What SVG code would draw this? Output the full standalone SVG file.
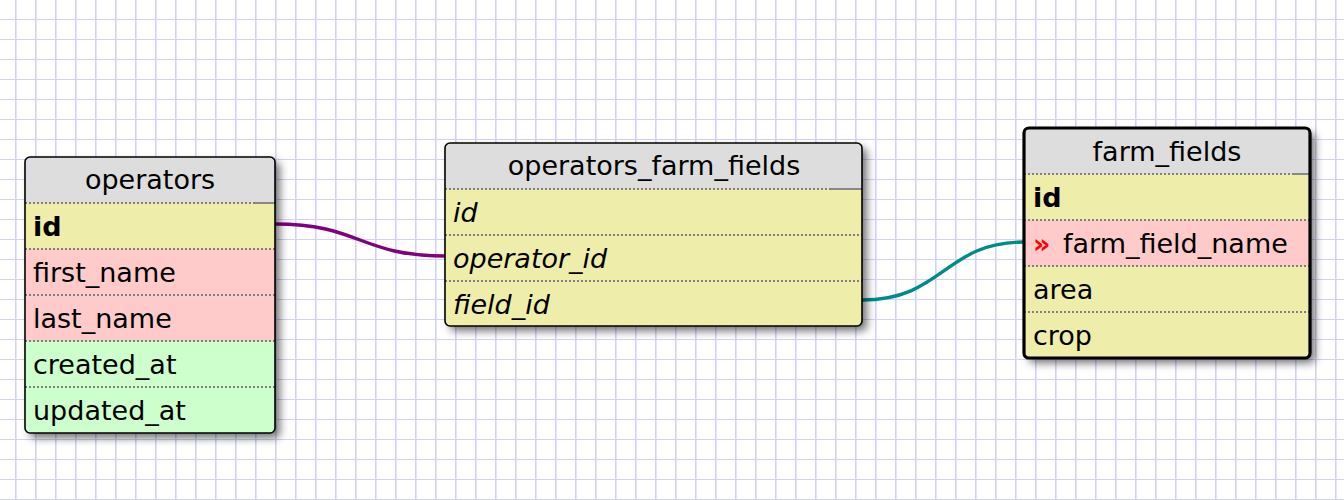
<svg xmlns="http://www.w3.org/2000/svg" width="1344" height="500" viewBox="0 0 1344 500">
<style>
.t{font-family:"DejaVu Sans",Verdana,sans-serif;font-size:27px;fill:#000}
.h{text-anchor:middle}
.b{font-weight:bold}
.i{font-style:italic}
.sep{stroke:#7f7f7f;stroke-width:2;stroke-dasharray:2 2;fill:none}
.sol{stroke:#888;stroke-width:2;fill:none}
.hd{fill:#dddddd}
.y{fill:#eeeeaa}
.p{fill:#ffcaca}
.g{fill:#ccffcc}
.bd{fill:none;stroke:#000;stroke-width:1.6}
.bd3{fill:none;stroke:#000;stroke-width:3.2}
.sh{fill:#fff;filter:url(#shadow)}
.c{fill:none;stroke-width:3.4}
</style>
<defs>
<pattern id="grid" x="0" y="0" width="20" height="20" patternUnits="userSpaceOnUse">
<rect x="15" y="0" width="1" height="20" fill="#d2d2f4"/>
<rect x="16" y="0" width="1" height="20" fill="#e4e4fa"/>
<rect x="0" y="19" width="20" height="1" fill="#d2d2f4"/>
<rect x="0" y="20" width="20" height="1" fill="#e4e4fa"/>
</pattern>
<filter id="shadow" x="-10%" y="-10%" width="130%" height="130%">
<feDropShadow dx="5" dy="5" stdDeviation="4" flood-color="#000" flood-opacity="0.55"/>
</filter>
<clipPath id="c1"><rect x="25" y="157" width="250" height="276" rx="5"/></clipPath>
<clipPath id="c2"><rect x="445" y="143" width="417" height="183" rx="5"/></clipPath>
<clipPath id="c3"><rect x="1024" y="128" width="286" height="230" rx="5"/></clipPath>
</defs>
<rect width="1344" height="500" fill="#fff"/>
<rect width="1344" height="500" fill="url(#grid)"/>

<g id="connectors">
<path class="c" stroke="#800080" d="M275,224 C360,224 360,256 445,256"/>
<path class="c" stroke="#008b8b" d="M862,300 C944,300 944,242 1024,242"/>
</g>

<g id="operators">
<rect class="sh" x="25" y="157" width="250" height="276" rx="5"/>
<g clip-path="url(#c1)">
<rect class="hd" x="25" y="157" width="250" height="46"/>
<rect class="y" x="25" y="203" width="250" height="46"/>
<rect class="p" x="25" y="249" width="250" height="92"/>
<rect class="g" x="25" y="341" width="250" height="92"/>
</g>
<path class="sep" d="M25,203 H255 M25,249 H275 M25,295 H275 M25,341 H275 M25,387 H275"/>
<path class="sol" d="M255,203 H275"/>
<rect class="bd" x="25" y="157" width="250" height="276" rx="5"/>
<text class="t h" x="150" y="189">operators</text>
<text class="t b" x="33" y="236">id</text>
<text class="t" x="33" y="282">first_name</text>
<text class="t" x="33" y="328">last_name</text>
<text class="t" x="33" y="374">created_at</text>
<text class="t" x="33" y="420">updated_at</text>
</g>

<g id="operators_farm_fields">
<rect class="sh" x="445" y="143" width="417" height="183" rx="5"/>
<g clip-path="url(#c2)">
<rect class="hd" x="445" y="143" width="417" height="46"/>
<rect class="y" x="445" y="189" width="417" height="137"/>
</g>
<path class="sep" d="M445,189 H830 M445,235 H862 M445,281 H862"/>
<path class="sol" d="M830,189 H862"/>
<rect class="bd" x="445" y="143" width="417" height="183" rx="5"/>
<text class="t h" x="654" y="175">operators_farm_fields</text>
<text class="t i" x="453" y="222">id</text>
<text class="t i" x="453" y="268">operator_id</text>
<text class="t i" x="453" y="314">field_id</text>
</g>

<g id="farm_fields">
<rect class="sh" x="1024" y="128" width="286" height="230" rx="5"/>
<g clip-path="url(#c3)">
<rect class="hd" x="1024" y="128" width="286" height="46"/>
<rect class="y" x="1024" y="174" width="286" height="46"/>
<rect class="p" x="1024" y="220" width="286" height="46"/>
<rect class="y" x="1024" y="266" width="286" height="92"/>
</g>
<path class="sep" d="M1024,174 H1293 M1024,220 H1310 M1024,266 H1310 M1024,312 H1310"/>
<path class="sol" d="M1293,174 H1310"/>
<rect class="bd3" x="1024" y="128" width="286" height="230" rx="5"/>
<text class="t h" x="1167" y="161">farm_fields</text>
<text class="t b" x="1033" y="207">id</text>
<text class="t b" x="1033" y="253" style="fill:#ff0000">»</text>
<text class="t" x="1063" y="253">farm_field_name</text>
<text class="t" x="1033" y="299">area</text>
<text class="t" x="1033" y="345">crop</text>
</g>
</svg>
